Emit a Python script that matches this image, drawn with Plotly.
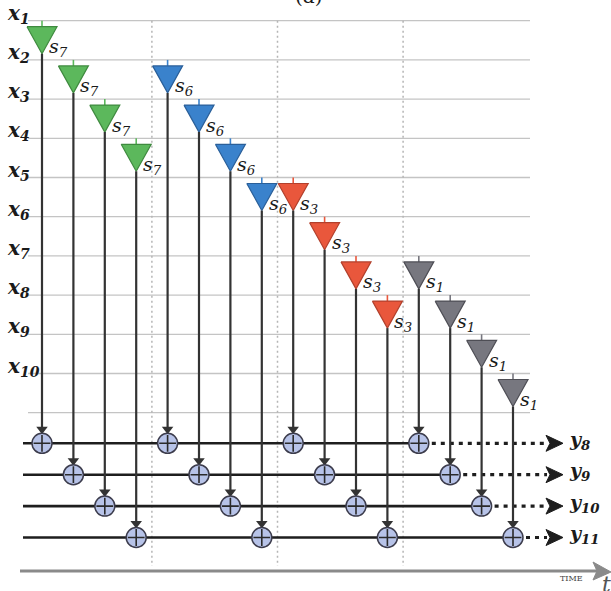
import plotly.graph_objects as go

# ---- data -------------------------------------------------------------
row_labels = ["1", "2", "3", "4", "5", "6", "7", "8", "9", "10"]   # x_i inputs
group_scales = ["7", "6", "3", "1"]                                  # s_k per tap group
group_start_row = [0, 1, 4, 6]                                       # first input row of each group
group_fill = ["#5cb85c", "#3a82cc", "#e9573c", "#77777f"]
group_edge = ["#3f8a3f", "#2a5f99", "#b2402c", "#4e4e55"]
output_labels = ["8", "9", "10", "11"]                               # y_j outputs
taps_per_group = 4

# ---- layout constants -------------------------------------------------
W, H = 611, 591
row_y0, row_step = 20.7, 39.2
col_x0, col_step = 42.0, 31.4
out_y0, out_step = 443.3, 31.4
tri_gap, tri_h, tri_half = 6.0, 27.0, 15.0
circ_r = 10.0
line_left, out_line_left = 28.0, 23.0
row_line_right = 530.0
dots_end, arrow_tip = 547.0, 563.0
time_y = 571.0

FONT = "DejaVu Serif"
DARK = "#333333"

fig = go.Figure()


def seg(xs, ys, color, width, dash="solid"):
    fig.add_trace(go.Scatter(x=xs, y=ys, mode="lines",
                             line=dict(color=color, width=width, dash=dash),
                             hoverinfo="skip", showlegend=False))


def row_y(k):
    return row_y0 + k * row_step


def col_x(j):
    return col_x0 + j * col_step


def out_y(p):
    return out_y0 + p * out_step


# horizontal input rows (one extra line under the last input)
n_rows = len(row_labels) + 1
xs, ys = [], []
for k in range(n_rows):
    xs += [line_left, row_line_right, None]
    ys += [row_y(k), row_y(k), None]
seg(xs, ys, "#c4c4c4", 1.3)

# dotted separators between tap groups
xs, ys = [], []
for g in range(len(group_scales) - 1):
    xsep = col_x((g + 1) * taps_per_group - 0.5)
    xs += [xsep, xsep, None]
    ys += [row_y(0), 566.0, None]
seg(xs, ys, "#b5b5b5", 1.5, dash="2px,3px")

# time axis
seg([20.0, 598.0], [time_y, time_y], "#8a8a8a", 3)
fig.add_trace(go.Scatter(x=[593.0, 611.0, 593.0, 597.0, 593.0],
                         y=[time_y - 9, time_y + 1, time_y + 9, time_y, time_y - 9],
                         mode="lines", fill="toself", fillcolor="#8a8a8a",
                         line=dict(color="#8a8a8a", width=1),
                         hoverinfo="skip", showlegend=False))

# output accumulation lines: solid up to the last adder, dotted afterwards
n_groups = len(group_scales)
for p, lab in enumerate(output_labels):
    yo = out_y(p)
    last_x = col_x((n_groups - 1) * taps_per_group + p)
    seg([out_line_left, last_x], [yo, yo], "#1e1e1e", 2.6)
    seg([last_x + circ_r + 3, dots_end], [yo, yo], "#1e1e1e", 3.2, dash="4px,5px")
    fig.add_trace(go.Scatter(x=[dots_end - 1, arrow_tip, dots_end - 1, dots_end + 3, dots_end - 1],
                             y=[yo - 8, yo, yo + 8, yo, yo - 8],
                             mode="lines", fill="toself", fillcolor="#1e1e1e",
                             line=dict(color="#1e1e1e", width=1),
                             hoverinfo="skip", showlegend=False))

# taps: stem, vertical wire, arrowhead, triangle and adder
circ_x, circ_y, head_x, head_y = [], [], [], []
wire_x, wire_y = [], []
for g in range(n_groups):
    for p in range(taps_per_group):
        j = g * taps_per_group + p
        cx = col_x(j)
        ry = row_y(group_start_row[g] + p)
        top = ry + tri_gap
        apex = top + tri_h
        yo = out_y(p)
        # short colored stem from the input row
        seg([cx, cx], [ry, top], group_fill[g], 1.6)
        # vertical wire down to the adder
        wire_x += [cx, cx, None]
        wire_y += [apex, yo - circ_r - 4, None]
        head_x.append(cx)
        head_y.append(yo - circ_r - 4)
        circ_x.append(cx)
        circ_y.append(yo)
        # scaling triangle
        fig.add_trace(go.Scatter(x=[cx - tri_half, cx + tri_half, cx, cx - tri_half],
                                 y=[top, top, apex, top],
                                 mode="lines", fill="toself", fillcolor=group_fill[g],
                                 line=dict(color=group_edge[g], width=1.2),
                                 hoverinfo="skip", showlegend=False))

seg(wire_x, wire_y, DARK, 2.2)
fig.add_trace(go.Scatter(x=head_x, y=head_y, mode="markers",
                         marker=dict(symbol="triangle-down", size=10, color=DARK,
                                     line=dict(width=0)),
                         hoverinfo="skip", showlegend=False))
fig.add_trace(go.Scatter(x=circ_x, y=circ_y, mode="markers",
                         marker=dict(symbol="circle", size=2 * circ_r, color="#b7c3e8",
                                     line=dict(color="#3c3c4c", width=1.5)),
                         hoverinfo="skip", showlegend=False))
fig.add_trace(go.Scatter(x=circ_x, y=circ_y, mode="markers",
                         marker=dict(symbol="cross-thin", size=12,
                                     line=dict(color="#2a2a2a", width=1.6)),
                         hoverinfo="skip", showlegend=False))

# ---- text -------------------------------------------------------------
ann = []
for k, lab in enumerate(row_labels):
    ann.append(dict(x=5, y=row_y(k) - 7, text=f"<b><i>x<sub>{lab}</sub></i></b>",
                    xanchor="left", yanchor="middle", showarrow=False,
                    font=dict(family=FONT, size=20, color="#1a1a1a")))
for g in range(n_groups):
    for p in range(taps_per_group):
        j = g * taps_per_group + p
        apex = row_y(group_start_row[g] + p) + tri_gap + tri_h
        ann.append(dict(x=col_x(j) + 5, y=apex - 6,
                        text=f"<i>s<sub>{group_scales[g]}</sub></i>",
                        xanchor="left", yanchor="middle", showarrow=False,
                        font=dict(family=FONT, size=19, color="#1a1a1a")))
for p, lab in enumerate(output_labels):
    ann.append(dict(x=567, y=out_y(p) - 3, text=f"<b><i>y<sub>{lab}</sub></i></b>",
                    xanchor="left", yanchor="middle", showarrow=False,
                    font=dict(family=FONT, size=19, color="#1a1a1a")))
ann.append(dict(x=571, y=578, text="TIME", xanchor="center", yanchor="middle",
                showarrow=False, font=dict(family=FONT, size=8, color="#444444")))
ann.append(dict(x=606, y=584, text="<i>t</i>", xanchor="center", yanchor="middle",
                showarrow=False, font=dict(family=FONT, size=22, color="#555555")))
ann.append(dict(x=309, xref="x", y=1.0 + 4.0 / H, yref="paper", text="(a)",
                xanchor="center", yanchor="middle", showarrow=False,
                font=dict(family=FONT, size=20, color="#1a1a1a")))

fig.update_layout(
    width=W, height=H,
    margin=dict(l=0, r=0, t=0, b=0),
    paper_bgcolor="white", plot_bgcolor="white",
    showlegend=False,
    xaxis=dict(range=[0, W], visible=False, fixedrange=True),
    yaxis=dict(range=[H, 0], visible=False, fixedrange=True),
    annotations=ann,
)

fig.write_html("out.html")
